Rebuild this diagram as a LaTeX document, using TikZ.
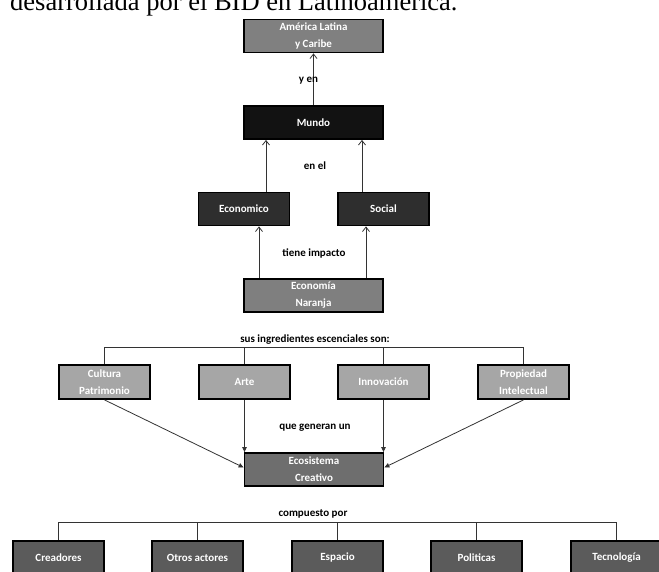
\documentclass[tikz,border=0pt]{standalone}
\usepackage{fontspec}
\setmainfont{Carlito}
\newfontfamily\serifx{Liberation Serif}
\usetikzlibrary{arrows.meta}
\definecolor{cAm}{HTML}{808080}
\definecolor{cMu}{HTML}{121212}
\definecolor{cEs}{HTML}{2E2E2E}
\definecolor{cNa}{HTML}{7F7F7F}
\definecolor{cIn}{HTML}{A6A6A6}
\definecolor{cEc}{HTML}{6E6E6E}
\definecolor{cBo}{HTML}{5B5B5B}
\definecolor{cLn}{HTML}{333333}
\begin{document}
\begin{tikzpicture}[x=1pt,y=-1pt,
  box/.style={draw=black, line width=1.8pt, inner sep=0pt, align=center,
    text=white, font=\bfseries\fontsize{11}{17}\selectfont,
    minimum height=33pt},
  wide/.style={box, minimum width=139pt},
  narrow/.style={box, minimum width=91pt},
  lbl/.style={font=\bfseries\fontsize{11}{13}\selectfont, text=black, inner sep=0pt},
  link/.style={draw=cLn, line width=0.8pt},
  openarr/.style={link, -{Straight Barb[length=4.5pt,width=7pt]}},
  fillarr/.style={link, -{Triangle[length=5pt,width=4.5pt]}}]
\useasboundingbox (0,0) rectangle (659,572);
\clip (0,0) rectangle (659,572);
\fill[white] (0,0) rectangle (659,572);

% cut-off line of document text
\node[anchor=base west, inner sep=0pt, font=\serifx\fontsize{26.5}{30}\selectfont] (doc) at (10,11) {desarrollada por el BID en Latinoamérica.};

% boxes
\node[wide, fill=cAm] (am) at (313.5,36) {América Latina\\y Caribe};
\node[wide, fill=cMu] (mu) at (313.5,122.5) {Mundo};
\node[narrow, fill=cEs] (eco) at (244,209) {Economico};
\node[narrow, fill=cEs] (soc) at (383.5,209) {Social};
\node[wide, fill=cNa] (nar) at (313.5,295.5) {Economía\\Naranja};

\node[narrow, fill=cIn, minimum height=34pt] (cul) at (104.5,382) {Cultura\\Patrimonio};
\node[narrow, fill=cIn, minimum height=34pt] (art) at (244.5,382) {Arte};
\node[narrow, fill=cIn, minimum height=34pt] (inn) at (383.5,382) {Innovación};
\node[narrow, fill=cIn, minimum height=34pt] (pro) at (523.5,382) {Propiedad\\Intelectual};

\node[wide, fill=cEc] (eci) at (314,469.5) {Ecosistema\\Creativo};

\node[narrow, fill=cBo] (cre) at (58.5,557.5) {Creadores};
\node[narrow, fill=cBo] (otr) at (197.5,557.5) {Otros actores};
\node[narrow, fill=cBo] (esp) at (337.5,557.5) {Espacio};
\node[narrow, fill=cBo] (pol) at (476.5,557.5) {Politicas};
\node[narrow, fill=cBo] (tec) at (616.5,557.5) {Tecnología};

% top connectors
\draw[openarr] (mu.north) -- (am.south);
\node[lbl] (lyen) at (308.5,81) {y en};

\coordinate (e1) at ([xshift=22]eco.north);
\coordinate (s1) at ([xshift=-21.5]soc.north);
\draw[openarr] (e1) -- (e1 |- mu.south);
\draw[openarr] (s1) -- (s1 |- mu.south);
\node[lbl] (lenel) at (315,166) {en el};

\coordinate (n1) at ([xshift=-54.5]nar.north);
\coordinate (n2) at ([xshift=52.5]nar.north);
\draw[openarr] (n1) -- (n1 |- eco.south);
\draw[openarr] (n2) -- (n2 |- soc.south);
\node[lbl] (ltie) at (314,253) {tiene impacto};

% ingredients bar
\node[lbl] (ling) at (315,340) {sus ingredientes escenciales son:};
\coordinate (ibar) at (314,347);
\draw[link] (cul.north) -- (cul.north |- ibar) -- (pro.north |- ibar) -- (pro.north);
\draw[link] (art.north) -- (art.north |- ibar);
\draw[link] (inn.north) -- (inn.north |- ibar);

% arrows into ecosystem
\draw[fillarr] (cul.south) -- ([yshift=2]eci.west);
\draw[fillarr] (art.south) -- (art.south |- eci.north);
\draw[fillarr] (inn.south) -- (inn.south |- eci.north);
\draw[fillarr] (pro.south) -- ([yshift=2]eci.east);
\node[lbl] (lque) at (315,428) {que generan un};

% composition bar
\node[lbl] (lcom) at (313,514) {compuesto por};
\coordinate (cbar) at (313,522);
\draw[link] (cre.north) -- (cre.north |- cbar) -- (tec.north |- cbar) -- (tec.north);
\draw[link] (otr.north) -- (otr.north |- cbar);
\draw[link] (esp.north) -- (esp.north |- cbar);
\draw[link] (pol.north) -- (pol.north |- cbar);
\end{tikzpicture}
\end{document}
